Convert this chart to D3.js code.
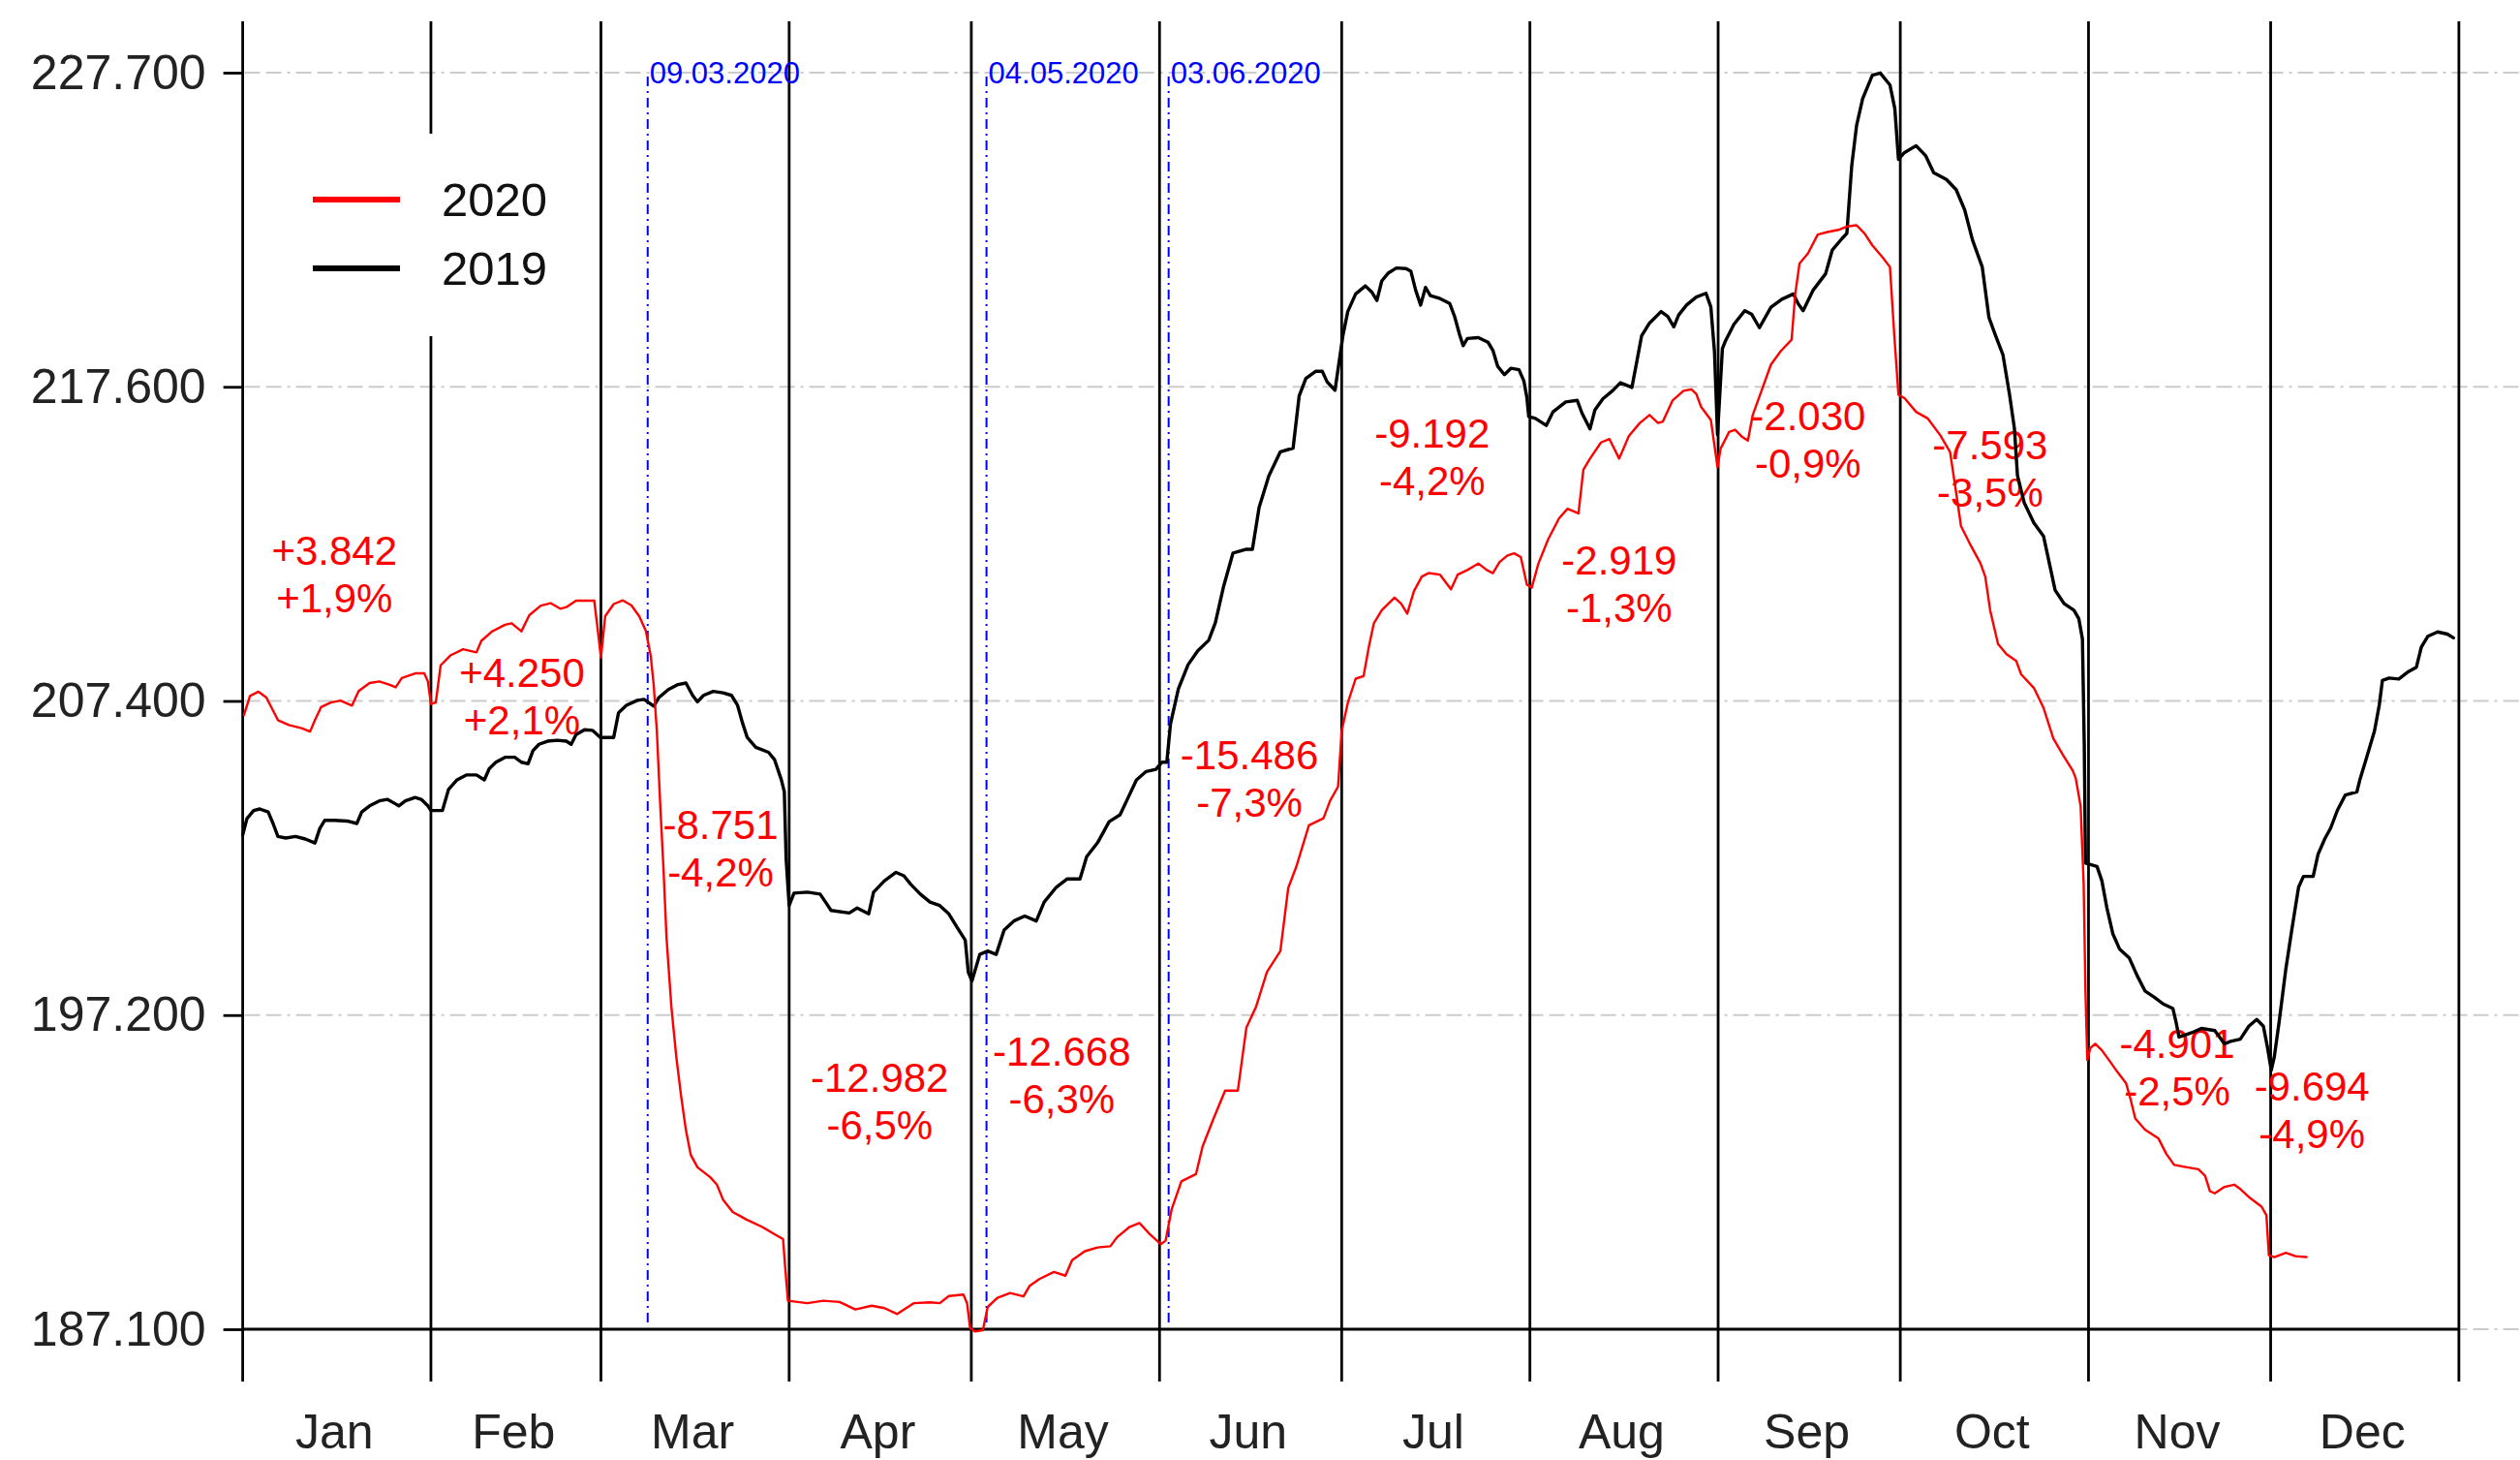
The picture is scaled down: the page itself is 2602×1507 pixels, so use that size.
<!DOCTYPE html>
<html><head><meta charset="utf-8">
<script src="https://cdn.jsdelivr.net/npm/d3@7"></script>
<style>
body{margin:0;background:#fff;}
svg{display:block;}
text{font-family:"Liberation Sans", Arial, sans-serif;}
</style>
</head><body>
<svg id="chart" width="2602" height="1507"></svg>
<script>
// ---------- data ----------
const monthLabels = ["Jan","Feb","Mar","Apr","May","Jun","Jul","Aug","Sep","Oct","Nov","Dec"];
const monthStartDays = [0,31,59,90,120,151,181,212,243,273,304,334,365];
const yTickValues = [187.1,197.25,207.4,217.55,227.7];
const yTickLabels = ["187.100","197.200","207.400","217.600","227.700"];
const seriesNames = ["2020","2019"];

const days2020 = [0.2,1.2,2.6,3.9,5.8,7.6,9.7,11.1,11.9,12.9,14.5,16.1,18.0,19.1,20.9,22.5,24.1,25.2,26.2,28.4,29.9,30.5,31.0,31.8,32.6,34.2,36.3,38.5,39.3,41.1,43.2,44.3,45.9,47.2,49.1,50.7,52.3,53.3,54.9,57.9,58.4,59.0,59.7,61.1,62.6,64.0,65.3,66.4,67.2,67.7,68.2,68.8,69.3,69.8,70.6,71.4,72.2,73.0,73.8,74.9,77.0,78.1,79.1,80.7,82.9,85.5,87.6,89.0,89.3,89.8,93.0,95.6,98.3,100.9,103.6,105.7,107.8,110.5,113.2,114.8,116.3,118.7,119.3,119.8,120.6,121.9,122.7,124.3,126.4,128.6,129.6,131.2,133.6,135.5,136.6,138.7,140.8,142.9,144.0,146.1,147.7,149.3,151.2,152.0,153.0,154.6,157.0,158.1,159.9,161.8,163.9,165.3,166.9,168.7,170.9,172.2,173.5,175.6,178.0,179.1,180.4,181.0,182.0,183.3,184.6,185.5,186.3,187.6,189.7,190.8,191.8,192.9,194.2,195.3,197.2,199.0,200.1,201.7,203.5,204.9,205.9,207.0,208.3,209.4,210.5,211.5,212.3,213.4,215.0,216.8,218.2,220.0,220.8,221.9,223.7,225.1,226.7,228.3,230.1,231.7,233.1,233.9,235.5,237.3,238.6,239.4,240.2,241.8,242.9,243.4,244.8,245.8,246.9,247.9,248.7,250.1,251.7,253.3,255.1,255.7,256.4,257.8,259.4,261.0,262.8,264.2,265.8,267.1,268.4,270.0,271.3,272.0,272.7,273.7,275.6,277.5,279.6,281.2,282.2,283.0,284.4,286.2,287.0,287.8,289.1,290.5,292.1,292.9,295.0,296.6,298.2,299.8,301.4,301.9,302.7,303.2,303.5,303.8,304.3,305.1,306.2,307.5,308.8,310.2,310.9,311.7,313.3,315.5,316.8,318.1,320.0,322.1,323.2,324.0,324.8,326.4,328.0,329.0,330.6,332.5,333.3,333.7,334.6,336.5,338.1,339.9];
const values2020 = [206.94,207.56,207.70,207.51,206.78,206.62,206.52,206.41,206.78,207.20,207.35,207.41,207.25,207.72,207.98,208.03,207.93,207.84,208.14,208.29,208.29,208.03,207.30,207.35,208.55,208.87,209.07,208.97,209.34,209.65,209.86,209.91,209.65,210.17,210.48,210.56,210.38,210.43,210.64,210.64,209.82,208.80,210.14,210.53,210.65,210.49,210.14,209.66,208.86,207.90,206.46,203.91,201.99,199.75,197.52,195.92,194.64,193.53,192.73,192.33,192.01,191.77,191.29,190.89,190.65,190.41,190.17,190.01,189.21,188.02,187.94,188.02,187.98,187.74,187.86,187.78,187.59,187.94,187.97,187.94,188.17,188.22,187.94,187.14,187.03,187.07,187.82,188.11,188.27,188.16,188.50,188.72,188.95,188.83,189.33,189.62,189.74,189.78,190.07,190.41,190.53,190.19,189.85,189.96,190.98,191.88,192.11,193.01,193.91,194.81,194.81,196.84,197.52,198.65,199.32,201.36,202.03,203.38,203.61,204.18,204.63,206.43,207.33,208.12,208.20,209.18,209.91,210.33,210.74,210.54,210.22,210.95,211.42,211.53,211.48,211.01,211.48,211.63,211.84,211.63,211.53,211.89,212.10,212.17,212.05,211.16,211.06,211.84,212.62,213.30,213.61,213.46,214.87,215.23,215.75,215.86,215.23,215.96,216.38,216.64,216.38,216.43,217.11,217.42,217.47,217.32,216.90,216.48,214.95,215.55,216.09,216.16,215.94,215.81,216.64,217.40,218.27,218.70,219.07,220.55,221.53,221.86,222.47,222.55,222.62,222.73,222.77,222.51,222.12,221.75,221.42,219.25,217.29,217.18,216.74,216.53,215.98,215.44,214.13,213.05,212.50,211.85,211.41,210.33,209.24,208.91,208.69,208.26,207.82,207.17,206.19,205.65,205.15,204.90,204.00,201.50,198.00,195.80,196.18,196.32,196.11,195.76,195.40,195.04,194.55,193.91,193.55,193.27,192.77,192.41,192.34,192.27,192.06,191.56,191.49,191.70,191.77,191.63,191.34,191.06,190.78,189.49,189.43,189.57,189.46,189.43];

const days2019 = [0.0,0.7,1.8,2.8,4.2,5.0,5.8,7.1,8.7,10.3,11.9,12.7,13.5,15.1,17.2,18.8,19.6,20.9,22.5,23.8,25.2,25.7,26.8,28.4,29.4,30.5,31.0,32.9,33.9,35.3,36.9,38.5,39.8,40.6,41.7,43.2,44.8,45.9,47.0,47.8,48.8,50.2,51.8,53.3,54.1,54.9,56.3,57.6,58.9,61.1,61.9,63.2,65.0,66.1,66.9,67.7,68.5,70.1,71.7,73.0,74.1,74.9,75.9,77.5,79.1,80.5,81.5,82.3,83.1,84.5,86.6,87.6,88.7,89.2,89.5,90.0,90.8,93.0,95.1,96.1,96.9,99.9,101.2,103.1,103.9,105.7,107.6,108.9,110.0,111.6,113.2,114.8,116.3,117.7,119.0,119.5,120.1,121.4,122.7,124.1,125.4,127.0,128.8,130.7,132.0,133.9,135.8,137.9,139.0,140.8,142.7,144.5,145.6,147.2,148.8,150.4,151.4,152.2,152.8,154.1,155.7,157.3,159.1,160.2,161.5,163.1,165.3,166.3,167.4,169.0,170.9,173.0,174.0,175.1,176.7,177.8,178.6,179.9,181.2,182.0,183.3,184.9,186.0,186.8,187.6,188.7,190.0,191.6,192.4,193.2,194.0,194.8,195.6,197.2,198.8,199.6,200.4,201.0,201.7,203.5,205.1,205.9,206.7,207.8,208.9,210.2,211.0,211.5,211.8,212.9,214.7,215.8,217.9,219.8,220.6,221.9,222.7,224.0,225.6,226.9,228.8,229.6,230.4,231.7,233.6,234.7,235.7,236.5,237.8,239.4,241.0,241.8,242.4,242.9,243.7,244.2,245.6,247.4,248.5,249.8,251.7,253.5,255.4,256.2,257.0,258.6,260.7,261.8,263.4,264.2,265.0,265.8,266.8,268.4,269.7,271.3,272.1,272.7,273.7,275.6,277.2,278.5,280.6,282.2,283.6,284.9,286.5,287.6,288.6,289.9,291.0,291.8,292.3,293.4,295.0,296.6,298.5,300.0,301.6,302.4,303.0,303.3,303.5,305.4,306.2,307.0,308.0,309.1,310.7,312.0,313.3,314.9,316.3,317.9,318.4,318.9,320.0,321.0,322.6,324.8,326.4,327.4,329.0,330.4,331.7,332.8,333.5,334.1,334.6,335.4,336.5,337.5,338.6,339.4,341.0,341.8,342.9,343.9,345.0,346.3,348.2,348.7,349.8,351.1,351.9,352.4,353.5,355.1,356.7,358.0,358.8,359.9,361.5,363.1,364.1];
const values2019 = [203.07,203.60,203.86,203.91,203.81,203.44,203.02,202.97,203.02,202.94,202.81,203.28,203.54,203.54,203.52,203.44,203.81,204.01,204.17,204.22,204.07,204.01,204.17,204.28,204.22,204.01,203.86,203.86,204.54,204.85,205.01,205.01,204.85,205.21,205.42,205.58,205.58,205.42,205.37,205.79,206.00,206.10,206.13,206.10,206.00,206.31,206.47,206.45,206.22,206.22,207.02,207.26,207.42,207.45,207.34,207.23,207.50,207.77,207.93,207.98,207.58,207.37,207.58,207.71,207.66,207.58,207.26,206.70,206.22,205.90,205.74,205.50,204.86,204.47,202.31,200.79,201.19,201.22,201.16,200.87,200.63,200.55,200.71,200.52,201.22,201.59,201.86,201.75,201.48,201.16,200.90,200.79,200.52,200.07,199.67,198.64,198.35,199.21,199.32,199.21,200.00,200.29,200.45,200.29,200.90,201.36,201.65,201.65,202.37,202.82,203.50,203.72,204.18,204.85,205.12,205.19,205.42,205.42,206.65,207.79,208.57,209.02,209.36,209.93,211.06,212.18,212.30,212.30,213.65,214.67,215.45,215.57,217.26,217.82,218.05,218.05,217.71,217.44,219.20,219.98,220.55,220.81,220.60,220.34,220.97,221.23,221.39,221.37,221.28,220.66,220.19,220.76,220.50,220.40,220.24,219.82,219.25,218.88,219.11,219.14,218.99,218.73,218.21,217.94,218.15,218.10,217.74,217.21,216.59,216.53,216.30,216.74,217.06,217.11,216.69,216.19,216.80,217.16,217.42,217.68,217.53,218.36,219.20,219.61,219.98,219.82,219.49,219.87,220.19,220.45,220.57,220.13,218.68,216.00,218.78,219.03,219.57,220.01,219.90,219.46,220.12,220.38,220.55,220.23,220.01,220.66,221.20,221.97,222.34,222.51,224.69,225.99,226.86,227.62,227.69,227.30,226.54,224.90,225.12,225.34,225.01,224.47,224.25,223.92,223.27,222.29,221.42,219.79,219.25,218.59,217.29,216.20,214.68,213.81,213.15,212.72,210.98,210.54,210.33,210.06,209.40,206.00,202.16,202.05,201.59,200.74,199.88,199.39,199.10,198.53,198.03,197.82,197.61,197.46,197.04,196.54,196.61,196.68,196.82,196.75,196.32,196.40,196.47,196.89,197.11,196.89,196.18,195.47,195.90,197.04,198.74,200.03,201.38,201.73,201.73,202.44,202.94,203.30,203.87,204.36,204.46,204.86,205.57,206.43,207.28,208.06,208.14,208.11,208.35,208.49,209.13,209.49,209.63,209.56,209.44];

const eventDays = [66.7, 122.5, 152.5];
const eventLabels = ["09.03.2020","04.05.2020","03.06.2020"];

const annDiff  = ["+3.842","+4.250","-8.751","-12.982","-12.668","-15.486","-9.192","-2.919","-2.030","-7.593","-4.901","-9.694"];
const annPct   = ["+1,9%","+2,1%","-4,2%","-6,5%","-6,3%","-7,3%","-4,2%","-1,3%","-0,9%","-3,5%","-2,5%","-4,9%"];
const annDay   = [15.1, 46.0, 78.7, 104.9, 134.9, 165.8, 195.9, 226.7, 257.8, 287.8, 318.6, 340.8];
const annValue = [211.80, 207.85, 202.95, 194.77, 195.60, 205.19, 215.59, 211.48, 216.16, 215.22, 195.87, 194.50];

// ---------- drawing ----------
const W = 2602, H = 1507;
const svg = d3.select("#chart");
svg.append("rect").attr("width", W).attr("height", H).attr("fill", "#fff");

const x = d3.scaleLinear().domain([0, 365]).range([250.6, 2538.9]);
const y = d3.scaleLinear().domain([187.1, 227.7]).range([1372, 75]);
const FONT = '"Liberation Sans", Arial, sans-serif';

// grid lines
svg.append("g").selectAll("line").data(yTickValues).join("line")
  .attr("x1", x(0) + 2).attr("x2", W)
  .attr("y1", d => y(d)).attr("y2", d => y(d))
  .attr("stroke", "#cccccc").attr("stroke-width", 2)
  .attr("stroke-dasharray", "16,6,16,6,3,6");

// month boundary lines
const lineTop = 22, lineBottom = 1426;
svg.append("g").selectAll("line").data(monthStartDays).join("line")
  .attr("x1", d => x(d)).attr("x2", d => x(d))
  .attr("y1", lineTop).attr("y2", lineBottom)
  .attr("stroke", "#000").attr("stroke-width", 2.8);

// x axis base line
svg.append("line")
  .attr("x1", x(0)).attr("x2", x(365))
  .attr("y1", y(187.1)).attr("y2", y(187.1))
  .attr("stroke", "#000").attr("stroke-width", 2.8);

// y axis
const yAxis = d3.axisLeft(y).tickValues(yTickValues)
  .tickFormat((d, i) => yTickLabels[i]).tickSize(20).tickPadding(18);
const gy = svg.append("g").attr("transform", `translate(${x(0)},0)`).call(yAxis);
gy.select(".domain").remove();
gy.selectAll(".tick line").attr("stroke", "#000").attr("stroke-width", 2.8);
gy.selectAll(".tick text").attr("font-size", 50).attr("font-family", FONT).attr("fill", "#222");

// month labels (axis)
const monthMids = monthLabels.map((m, i) => (monthStartDays[i] + monthStartDays[i + 1]) / 2);
const xAxis = d3.axisBottom(x).tickValues(monthMids)
  .tickFormat((d, i) => monthLabels[i]).tickSize(0).tickPadding(87);
const gx = svg.append("g").attr("transform", `translate(-3,${y(187.1)})`).call(xAxis);
gx.select(".domain").remove();
gx.selectAll(".tick text").attr("font-size", 50).attr("font-family", FONT).attr("fill", "#222");

// event lines
const ev = svg.append("g");
ev.selectAll("line").data(eventDays).join("line")
  .attr("x1", d => x(d)).attr("x2", d => x(d))
  .attr("y1", y(227.7) + 4).attr("y2", y(187.1) - 5)
  .attr("stroke", "#0000ff").attr("stroke-width", 2)
  .attr("stroke-dasharray", "10,5,2,5");
ev.selectAll("text").data(eventDays).join("text")
  .attr("x", d => x(d) + 2).attr("y", y(227.7))
  .attr("dominant-baseline", "central")
  .attr("font-size", 31).attr("font-family", FONT).attr("fill", "#0000ff")
  .text((d, i) => eventLabels[i]);

// annotations
const ann = svg.append("g").attr("fill", "#ff0000").attr("font-size", 42)
  .attr("font-family", FONT).attr("text-anchor", "middle");
annDiff.forEach((t, i) => {
  ann.append("text").attr("x", x(annDay[i])).attr("y", y(annValue[i])).text(t);
  ann.append("text").attr("x", x(annDay[i])).attr("y", y(annValue[i]) + 49).text(annPct[i]);
});

// series
const line = d3.line().x(d => x(d[0])).y(d => y(d[1]));
svg.append("path").datum(days2019.map((d, i) => [d, values2019[i]]))
  .attr("d", line).attr("fill", "none").attr("stroke", "#000")
  .attr("stroke-width", 3.4).attr("stroke-linejoin", "round").attr("stroke-linecap", "round");
svg.append("path").datum(days2020.map((d, i) => [d, values2020[i]]))
  .attr("d", line).attr("fill", "none").attr("stroke", "#ff0000")
  .attr("stroke-width", 2.4).attr("stroke-linejoin", "round").attr("stroke-linecap", "round");

// legend
const lg = svg.append("g");
lg.append("rect").attr("x", 262).attr("y", 138).attr("width", 330).attr("height", 209).attr("fill", "#fff");
const legendColors = ["#ff0000", "#000000"];
seriesNames.forEach((n, i) => {
  const cy = 206 + i * 71;
  lg.append("line").attr("x1", 323).attr("x2", 413).attr("y1", cy).attr("y2", cy)
    .attr("stroke", legendColors[i]).attr("stroke-width", 6);
  lg.append("text").attr("x", 456).attr("y", cy).attr("dominant-baseline", "central")
    .attr("font-size", 49).attr("font-family", FONT).attr("fill", "#111").text(n);
});
</script>
</body></html>
